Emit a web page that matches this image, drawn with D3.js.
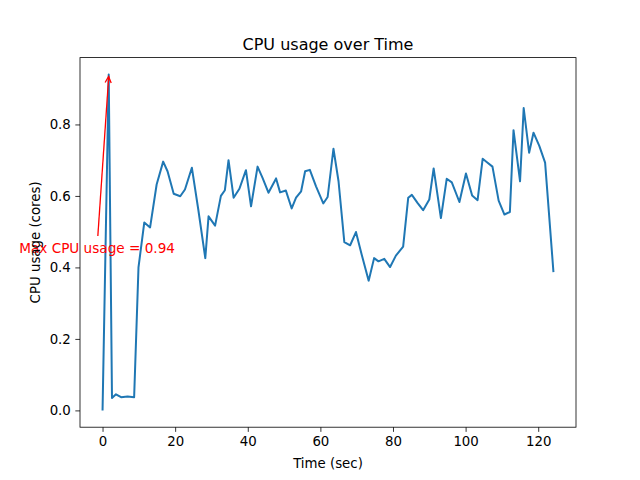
<!DOCTYPE html>
<html><head><meta charset="utf-8">
<script src="https://cdn.jsdelivr.net/npm/d3@7"></script>
<style>body{margin:0;background:#fff;} text{font-family:"DejaVu Sans",sans-serif;}</style>
</head><body>
<svg id="c" width="640" height="480"></svg>
<script>
const timeSec = [0, 1.7, 2.6, 3.7, 5.1, 6.9, 8.7, 9.9, 11.5, 13.1, 14.9, 16.7, 17.9, 19.6, 21.4, 22.7, 24.6, 26.4, 28.3,
  29.2, 31.0, 32.6, 33.7, 34.7, 36.1, 37.7, 39.5, 40.9, 42.7, 44.1, 45.7, 47.8, 48.9, 50.5, 52.1, 53.3, 54.7, 55.8, 57.1,
  58.8, 60.8, 62.0, 63.6, 65.0, 66.6, 68.2, 69.8, 71.5, 73.3, 74.8, 76.0, 77.6, 79.2, 80.8, 82.8, 84.2, 85.2, 86.8, 88.3,
  90.0, 91.2, 93.2, 94.8, 96.2, 98.3, 100.1, 101.8, 103.3, 104.7, 105.8, 107.4, 109.1, 110.7, 112.2, 113.2, 115.0, 116.0,
  117.5, 118.7, 120.3, 121.9, 124.2];
const cpuCores = [0, 0.94, 0.035, 0.045, 0.037, 0.039, 0.037, 0.40, 0.526, 0.512, 0.632, 0.696, 0.669, 0.606, 0.599, 0.618, 0.679, 0.56, 0.426,
  0.543, 0.517, 0.60, 0.616, 0.70, 0.595, 0.62, 0.672, 0.571, 0.682, 0.65, 0.609, 0.649, 0.61, 0.615, 0.565, 0.595, 0.613, 0.669, 0.673,
  0.627, 0.579, 0.597, 0.732, 0.641, 0.471, 0.462, 0.499, 0.431, 0.363, 0.426, 0.417, 0.424, 0.401, 0.433, 0.458, 0.595, 0.603, 0.58, 0.56,
  0.59, 0.677, 0.538, 0.648, 0.638, 0.583, 0.663, 0.601, 0.588, 0.704, 0.695, 0.682, 0.587, 0.548, 0.555, 0.784, 0.641, 0.846,
  0.721, 0.777, 0.74, 0.693, 0.387];
const xTicks = [0, 20, 40, 60, 80, 100, 120];
const yTicks = [0.0, 0.2, 0.4, 0.6, 0.8];
const titleText = "CPU usage over Time";
const xLabel = "Time (sec)";
const yLabel = "CPU usage (cores)";

const svg = d3.select("#c");
const L = 80, R = 576, T = 57.6, B = 427.2;
const xmin = d3.min(timeSec), xmax = d3.max(timeSec);
const ymin = d3.min(cpuCores), ymax = d3.max(cpuCores);
const xm = (xmax - xmin) * 0.05, ym = (ymax - ymin) * 0.05;
const x = d3.scaleLinear().domain([xmin - xm, xmax + xm]).range([L, R]);
const y = d3.scaleLinear().domain([ymin - ym, ymax + ym]).range([B, T]);

const xAxis = d3.axisBottom(x).tickValues(xTicks).tickSize(4.67).tickPadding(4.5).tickFormat(d3.format("d"));
const yAxis = d3.axisLeft(y).tickValues(yTicks).tickSize(4.67).tickPadding(4.5).tickFormat(d3.format(".1f"));
const gx = svg.append("g").attr("transform", `translate(0,${B})`).call(xAxis);
const gy = svg.append("g").attr("transform", `translate(${L},0)`).call(yAxis);
[gx, gy].forEach(g => {
  g.select(".domain").remove();
  g.selectAll("line").attr("stroke", "#000").attr("stroke-width", 0.8);
  g.selectAll("text").attr("font-size", "13.33px").attr("fill", "#000").attr("font-family", "DejaVu Sans");
});

const line = d3.line().x((d, i) => x(timeSec[i])).y(d => y(d));
svg.append("path").datum(cpuCores).attr("d", line).attr("fill", "none")
  .attr("stroke", "#1f77b4").attr("stroke-width", 2).attr("stroke-linejoin", "round").attr("stroke-linecap", "butt");

svg.append("rect").attr("x", L).attr("y", T).attr("width", R - L).attr("height", B - T)
  .attr("fill", "none").attr("stroke", "#000").attr("stroke-width", 0.8);

// annotation
const maxI = d3.maxIndex(cpuCores);
const px = x(timeSec[maxI]), py = y(cpuCores[maxI]);
const textX = x(-1.5), textY = y(0.455);
const sx = x(-1.3), sy = y(0.488);
svg.append("line").attr("x1", sx).attr("y1", sy).attr("x2", px).attr("y2", py + 2)
  .attr("stroke", "red").attr("stroke-width", 1.3);
const ang = Math.atan2(py - sy, px - sx);
const ah = 7, aw = 0.45;
const tipX = px - Math.cos(ang) * 2, tipY = py + 2;
svg.append("path").attr("d", `M${tipX - ah * Math.cos(ang - aw)},${tipY - ah * Math.sin(ang - aw)} L${tipX},${tipY} L${tipX - ah * Math.cos(ang + aw)},${tipY - ah * Math.sin(ang + aw)}`)
  .attr("fill", "none").attr("stroke", "red").attr("stroke-width", 1.3);
svg.append("text").attr("x", textX).attr("y", textY).attr("text-anchor", "middle").attr("dominant-baseline", "central")
  .attr("font-size", "13.6px").attr("fill", "red").text(`Max CPU usage = ${cpuCores[maxI].toFixed(2)}`);

svg.append("text").attr("x", (L + R) / 2).attr("y", 49.5).attr("text-anchor", "middle")
  .attr("font-size", "16px").attr("fill", "#000").text(titleText);
svg.append("text").attr("x", (L + R) / 2).attr("y", 468).attr("text-anchor", "middle")
  .attr("font-size", "13.33px").attr("fill", "#000").text(xLabel);
svg.append("text").attr("transform", `translate(39.5,${(T + B) / 2}) rotate(-90)`).attr("text-anchor", "middle")
  .attr("font-size", "13.33px").attr("fill", "#000").text(yLabel);
</script>
</body></html>
